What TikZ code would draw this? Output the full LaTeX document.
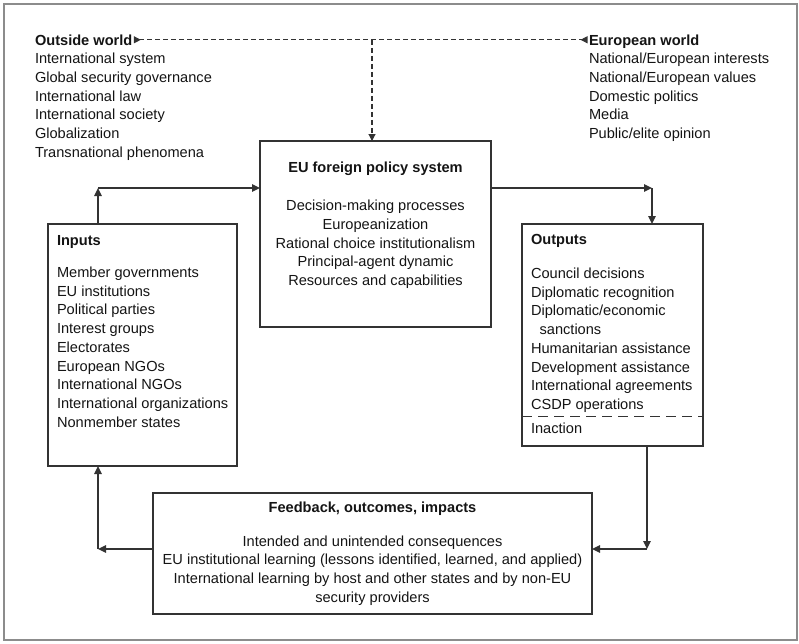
\documentclass[tikz,border=0pt]{standalone}
\usepackage{fontspec}
\setmainfont{Liberation Sans}
\usetikzlibrary{arrows.meta,calc}
\newcommand\myfl{\rule{0pt}{11pt}}
\begin{document}
\begin{tikzpicture}[x=1pt,y=-1pt,
  every node/.style={inner sep=0pt, outer sep=0pt, text=black!92,
    font=\fontsize{14.6pt}{18.75pt}\selectfont},
  box/.style={draw=black!80, line width=1.3pt, rectangle, anchor=north west},
  lst/.style={anchor=north west, align=left},
  clst/.style={anchor=north, align=center},
  ttl/.style={font=\fontsize{14.6pt}{18.75pt}\selectfont\bfseries},
  arr/.style={draw=black!80, line width=1.3pt, -{Triangle[length=8pt,width=7.5pt]}},
  dsh/.style={draw=black!80, line width=1.1pt, dash pattern=on 5pt off 3pt}
]
\useasboundingbox (0,0) rectangle (799,643);
\draw[draw=black!45, line width=1.6pt] (4,4) rectangle (797,640);

% outside world
\node[ttl, anchor=base west] (outw) at (35,45) {Outside world};
\node[lst] (outL) at (35,52.7) {\myfl International system\\Global security governance\\International law\\International society\\Globalization\\Transnational phenomena};
% european world
\node[ttl, anchor=base west] (euw) at (589,45) {European world};
\node[lst] (euwL) at (589,52.7) {\myfl National/European interests\\National/European values\\Domestic politics\\Media\\Public/elite opinion};

% EU system
\node[box, minimum width=231pt, minimum height=186pt] (eu) at (260,141) {};
\node[ttl, anchor=base] (euT) at (375.5,172.5) {EU foreign policy system};
\node[clst] (euL) at (375.5,199.5) {\myfl Decision-making processes\\Europeanization\\Rational choice institutionalism\\Principal-agent dynamic\\Resources and capabilities};

% Inputs
\node[box, minimum width=189pt, minimum height=242pt] (inputs) at (48,224) {};
\node[ttl, anchor=base west] (inT) at (57,245) {Inputs};
\node[lst] (inL) at (57,266.3) {\myfl Member governments\\EU institutions\\Political parties\\Interest groups\\Electorates\\European NGOs\\International NGOs\\International organizations\\Nonmember states};

% Outputs
\node[box, minimum width=181pt, minimum height=222pt] (outputs) at (522,224) {};
\node[ttl, anchor=base west] (outT) at (531,244) {Outputs};
\node[lst] (outL2) at (531,267.3) {\myfl Council decisions\\Diplomatic recognition\\Diplomatic/economic\\\hspace*{8.6pt}sanctions\\Humanitarian assistance\\Development assistance\\International agreements\\CSDP operations};
\draw[draw=black!80, line width=1.3pt, dash pattern=on 10pt off 6pt] (outputs.west |- 0,416.7) -- (outputs.east |- 0,416.7);
\node[anchor=base west] (inaction) at (531,433.3) {Inaction};

% Feedback
\node[box, minimum width=439pt, minimum height=121pt] (fb) at (153,493) {};
\node[ttl, anchor=base] (fbT) at (372.5,512.7) {Feedback, outcomes, impacts};
\node[clst] (fbL) at (372.5,535) {\myfl Intended and unintended consequences\\EU institutional learning (lessons identified, learned, and applied)\\International learning by host and other states and by non-EU\\security providers};

% dashed connectors
\draw[dsh, {Triangle[reversed,length=7pt,width=7pt]}-{Triangle[reversed,length=7pt,width=7pt]}, shorten <=1.5pt, shorten >=1.5pt] (outw.east) -- (outw.east -| euw.west);
\coordinate (j) at (372,0 |- outw.east);
\draw[dsh, -{Triangle[length=7pt,width=7pt]}] (j) -- (eu.north -| j);

% solid connectors
\coordinate (c1) at (98,188);
\coordinate (c2) at (652,188);
\coordinate (c3) at (647,549);
\coordinate (c4) at (98,549);
\draw[arr] (inputs.north -| c1) -- (c1);
\draw[arr] (c1) -- (eu.west |- c1);
\draw[arr] (eu.east |- c2) -- (c2);
\draw[arr] (c2) -- (outputs.north -| c2);
\draw[arr] (outputs.south -| c3) -- (c3);
\draw[arr] (c3) -- (fb.east |- c3);
\draw[arr] (fb.west |- c4) -- (c4);
\draw[arr] (c4) -- (inputs.south -| c4);
\end{tikzpicture}
\end{document}
